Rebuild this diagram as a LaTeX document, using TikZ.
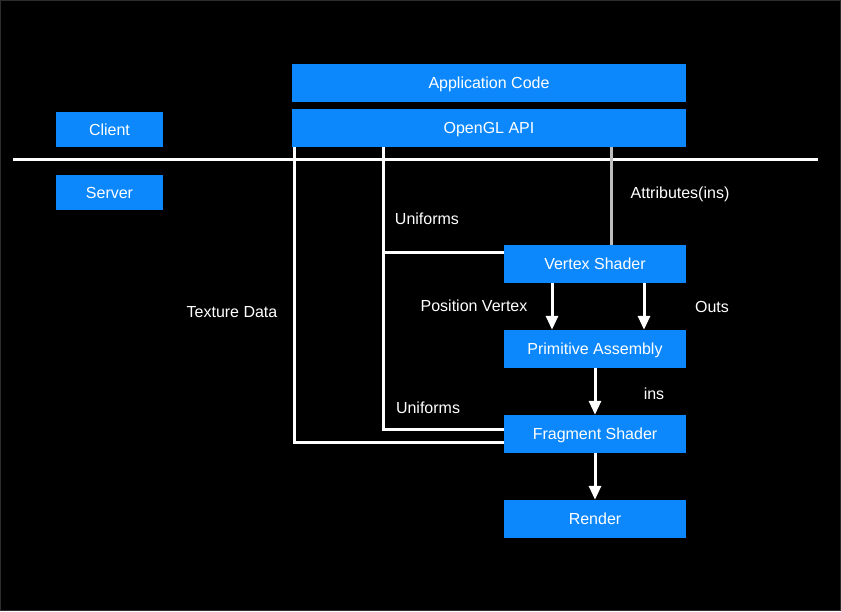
\documentclass[tikz,border=0pt]{standalone}
\usepackage{fontspec}
\setmainfont{Liberation Sans}
\usetikzlibrary{arrows.meta}
\definecolor{boxblue}{RGB}{12,136,252}
\definecolor{attrgray}{RGB}{190,190,190}

\begin{document}
\begin{tikzpicture}[x=1pt,y=-1pt,
	box/.style={fill=boxblue,text=white,inner sep=0pt,minimum height=38pt,text height=11.5pt,text depth=0pt,font=\fontsize{16}{19}\selectfont},
	label/.style={text=white,inner sep=0pt,font=\fontsize{16}{19}\selectfont},
	wire/.style={white,line width=3pt},
	flow/.style={white,line width=3pt,-{Triangle[length=14pt,width=12pt]}}]
	% Фон и рамка
	\fill[black] (0,0) rectangle (841,611);
	\draw[gray!35!black,line width=1pt] (0.5,0.5) rectangle (840.5,610.5);
	\useasboundingbox (0,0) rectangle (841,611);
	% Блоки
	\node[box,minimum width=394pt] (app) at (489,83) {Application Code};
	\node[box,minimum width=394pt] (api) at (489,128) {OpenGL API};
	\node[box,minimum width=107pt,minimum height=35pt] (client) at (109.5,129.5) {Client};
	\node[box,minimum width=107pt,minimum height=35pt] (server) at (109.5,192.5) {Server};
	\node[box,minimum width=182pt] (vertex) at (595,264) {Vertex Shader};
	\node[box,minimum width=182pt] (prim) at (595,349) {Primitive Assembly};
	\node[box,minimum width=182pt] (frag) at (595,434) {Fragment Shader};
	\node[box,minimum width=182pt] (render) at (595,519) {Render};
	% Граница клиент/сервер
	\coordinate (sepL) at (13,159);
	\coordinate (sepR) at (818,159);
	\draw[wire] (sepL) -- (sepR);
	% Линии данных
	\coordinate (tex) at (294,0);
	\coordinate (uni) at (383,0);
	\coordinate (attr) at (611,0);
	\draw[wire] (api.south -| tex) |- ([yshift=-8pt]frag.west);
	\draw[wire] (api.south -| uni) |- ([yshift=5pt]frag.west);
	\draw[wire] ([yshift=12pt]vertex.west -| uni) -- ([yshift=12pt]vertex.west);
	\draw[attrgray,line width=3pt] (api.south -| attr) -- (vertex.north -| attr);
	% Стрелки конвейера
	\draw[flow] ([xshift=-43pt]vertex.south) -- ([xshift=-43pt]prim.north);
	\draw[flow] ([xshift=49pt]vertex.south) -- ([xshift=49pt]prim.north);
	\draw[flow] (prim) -- (frag);
	\draw[flow] (frag) -- (render);
	% Подписи
	\node[label] (texlbl) at (232,312) {Texture Data};
	\node[label] (unilbl1) at (427,219) {Uniforms};
	\node[label] (unilbl2) at (428,408) {Uniforms};
	\node[label] (attrlbl) at (680,194) {Attributes(ins)};
	\node[label] (poslbl) at (474,306) {Position Vertex};
	\node[label] (outlbl) at (712,307) {Outs};
	\node[label] (inslbl) at (654,394) {ins};
\end{tikzpicture}
\end{document}
